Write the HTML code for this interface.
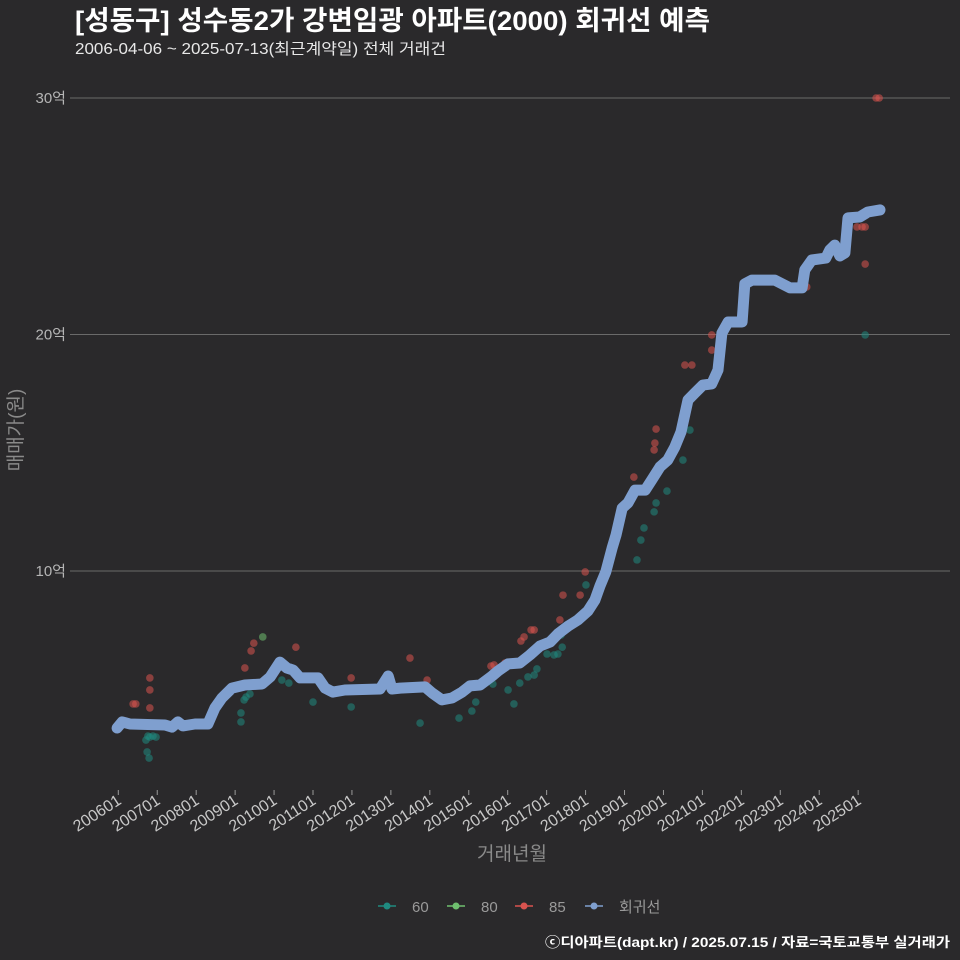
<!DOCTYPE html>
<html><head><meta charset="utf-8"><style>
body{margin:0;background:#2a292b;}
svg{display:block;font-family:"Liberation Sans","Noto Sans CJK KR",sans-serif;}
</style></head><body>
<svg id="chart" width="960" height="960" viewBox="0 0 960 960">
<rect width="960" height="960" fill="#2a292b"/>
<text x="75" y="30" font-size="27" font-weight="bold" fill="#ffffff" textLength="635" lengthAdjust="spacingAndGlyphs">[성동구] 성수동2가 강변임광 아파트(2000) 회귀선 예측</text>
<text x="75" y="54" font-size="15.5" fill="#e8e8e8" textLength="371" lengthAdjust="spacingAndGlyphs">2006-04-06 ~ 2025-07-13(최근계약일) 전체 거래건</text>
<g id="grid"></g>
<g id="xaxis"></g>
<g id="points"></g>
<path id="trend" fill="none" stroke="#7f9fcf" stroke-width="11" stroke-linejoin="round" stroke-linecap="round"/>
<text transform="translate(22,430) rotate(-90)" text-anchor="middle" font-size="19" fill="#8a8a8a">매매가(원)</text>
<text x="512" y="860" text-anchor="middle" font-size="19" fill="#8a8a8a">거래년월</text>
<g>
<g><line x1="378" y1="906" x2="396" y2="906" stroke="#1f8a80" stroke-width="1.5"/><circle cx="387" cy="906" r="3.5" fill="#1f8a80"/><text x="412" y="912" font-size="15" fill="#9a9a9a">60</text></g>
<g><line x1="447" y1="906" x2="465" y2="906" stroke="#6fbf6f" stroke-width="1.5"/><circle cx="456" cy="906" r="3.5" fill="#6fbf6f"/><text x="481" y="912" font-size="15" fill="#9a9a9a">80</text></g>
<g><line x1="515" y1="906" x2="533" y2="906" stroke="#d9534f" stroke-width="1.5"/><circle cx="524" cy="906" r="3.5" fill="#d9534f"/><text x="549" y="912" font-size="15" fill="#9a9a9a">85</text></g>
<g><line x1="585" y1="906" x2="603" y2="906" stroke="#7f9fcf" stroke-width="1.5"/><circle cx="594" cy="906" r="3.5" fill="#7f9fcf"/><text x="619" y="912" font-size="15" fill="#9a9a9a">회귀선</text></g>
</g>
<text x="950" y="947" text-anchor="end" font-size="13.5" font-weight="bold" fill="#ffffff" textLength="405" lengthAdjust="spacingAndGlyphs">ⓒ디아파트(dapt.kr) / 2025.07.15 / 자료=국토교통부 실거래가</text>
</svg>
<script>
const yTicks=[10,20,30];
const yTickLabels=["10억","20억","30억"];
const xTickYears=[2006,2007,2008,2009,2010,2011,2012,2013,2014,2015,2016,2017,2018,2019,2020,2021,2022,2023,2024,2025];
const xTickLabels=["200601","200701","200801","200901","201001","201101","201201","201301","201401","201501","201601","201701","201801","201901","202001","202101","202201","202301","202401","202501"];
const trendT=[2005.97,2006.10,2006.30,2007.20,2007.38,2007.53,2007.66,2007.97,2008.30,2008.48,2008.66,2008.92,2009.25,2009.69,2009.90,2010.15,2010.33,2010.49,2010.67,2011.13,2011.31,2011.51,2011.82,2012.72,2012.93,2013.03,2013.24,2013.88,2014.06,2014.31,2014.57,2014.83,2015.03,2015.29,2015.60,2015.75,2016.01,2016.31,2016.57,2016.83,2017.09,2017.29,2017.55,2017.80,2018.06,2018.24,2018.37,2018.52,2018.68,2018.78,2018.94,2019.09,2019.27,2019.53,2019.70,2019.91,2020.11,2020.29,2020.45,2020.63,2020.81,2021.01,2021.24,2021.40,2021.50,2021.66,2022.02,2022.09,2022.27,2022.86,2023.25,2023.56,2023.63,2023.81,2024.17,2024.27,2024.40,2024.53,2024.66,2024.74,2025.04,2025.25,2025.56];
const trendV=[3.36,3.62,3.53,3.49,3.40,3.62,3.45,3.53,3.53,4.21,4.63,5.05,5.18,5.22,5.52,6.15,5.90,5.81,5.48,5.48,5.05,4.88,4.97,5.01,5.56,5.01,5.05,5.10,4.84,4.55,4.63,4.88,5.14,5.18,5.56,5.77,6.07,6.11,6.45,6.83,7.00,7.34,7.67,7.93,8.31,8.77,9.37,9.96,10.97,11.52,12.66,12.88,13.42,13.42,13.85,14.40,14.69,15.24,15.88,17.23,17.53,17.86,17.91,18.50,20.06,20.53,20.53,22.14,22.30,22.30,21.97,21.97,22.73,23.15,23.23,23.57,23.78,23.32,23.45,24.93,24.97,25.18,25.27];
const red85T=[2006.38,2006.45,2006.81,2006.81,2006.81,2009.25,2009.41,2009.48,2010.56,2011.98,2013.49,2013.93,2014.83,2015.57,2015.65,2015.93,2016.34,2016.42,2016.60,2016.68,2017.42,2017.34,2017.86,2017.99,2019.24,2019.76,2019.78,2019.81,2020.55,2020.73,2021.24,2021.24,2023.68,2024.97,2025.10,2025.18,2025.18,2025.46,2025.54];
const red85V=[4.38,4.38,5.48,4.97,4.21,5.90,6.62,6.95,6.78,5.48,6.32,5.39,4.97,5.98,6.03,6.11,7.04,7.21,7.51,7.51,8.98,7.93,8.98,9.96,13.97,15.12,15.41,16.0,18.71,18.71,19.34,19.98,22.01,24.55,24.55,24.55,22.98,30.0,30.0];
const teal60T=[2006.71,2006.76,2006.81,2006.89,2006.74,2006.79,2006.97,2009.15,2009.15,2009.23,2009.28,2009.38,2010.20,2010.38,2011.00,2011.98,2013.75,2014.75,2015.08,2015.18,2015.62,2016.01,2016.16,2016.31,2016.52,2016.68,2016.75,2017.01,2017.19,2017.29,2017.40,2017.37,2018.01,2019.32,2019.42,2019.50,2019.76,2019.81,2020.09,2020.50,2020.68,2025.18];
const teal60V=[2.85,3.02,2.98,3.02,2.35,2.09,2.98,4.0,3.62,4.55,4.67,4.80,5.39,5.26,4.46,4.25,3.57,3.78,4.08,4.46,5.22,4.97,4.38,5.26,5.52,5.60,5.86,6.49,6.45,6.49,6.78,7.29,9.41,10.47,11.31,11.82,12.50,12.88,13.38,14.69,15.96,19.98];
const green80T=[2009.71];
const green80V=[7.21];

const NS="http://www.w3.org/2000/svg";
function xs(t){return 118.3+(t-2006)*38.94;}
function ys(v){return 807.5-v*23.65;}
function mk(tag,attrs,parent){const e=document.createElementNS(NS,tag);for(const k in attrs)e.setAttribute(k,attrs[k]);parent.appendChild(e);return e;}

const grid=document.getElementById('grid');
yTicks.forEach((v,i)=>{
  const l=mk('line',{x1:70,x2:950,y1:ys(v),y2:ys(v),stroke:'#6a6a6a','stroke-width':1},grid);
  
  
  const t=mk('text',{x:66,y:ys(v)+5,'text-anchor':'end','font-size':15,fill:'#b5b5b5'},grid);
  t.textContent=yTickLabels[i];
  
  
});
const xa=document.getElementById('xaxis');
xTickYears.forEach((yr,i)=>{
  const x=xs(yr);
  const tk=mk('line',{x1:x,x2:x,y1:790,y2:795,stroke:'#9a9a9a','stroke-width':1},xa);
  
  
  const t=mk('text',{transform:`translate(${x+4},803) rotate(-33)`,'text-anchor':'end','font-size':16,fill:'#c8c8c8'},xa);
  t.textContent=xTickLabels[i];
  
  
});
const pts=document.getElementById('points');
function drawPts(T,V,color,name){
  T.forEach((t,i)=>{
    const c=mk('circle',{cx:xs(t),cy:ys(V[i]),r:3.8,fill:color,'fill-opacity':0.55},pts);
    
    
  });
}
drawPts(teal60T,teal60V,'#1f8a80','point-60');
drawPts(green80T,green80V,'#6fbf6f','point-80');
drawPts(red85T,red85V,'#d9534f','point-85');
document.getElementById('trend').setAttribute('d',trendT.map((t,i)=>(i?'L':'M')+xs(t).toFixed(1)+','+ys(trendV[i]).toFixed(1)).join(''));
</script>
</body></html>
